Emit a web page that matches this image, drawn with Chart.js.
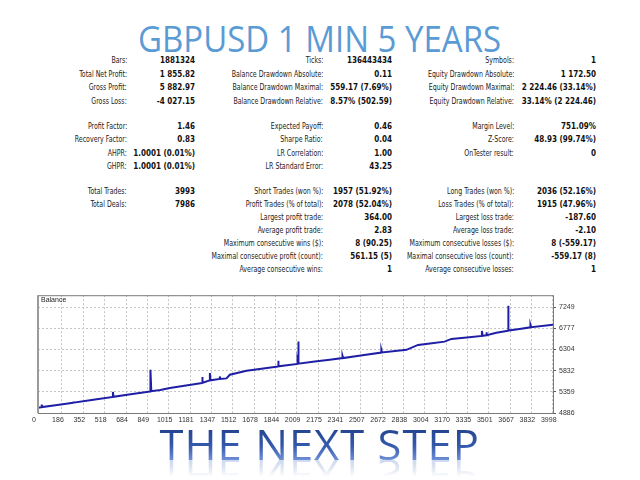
<!DOCTYPE html>
<html>
<head>
<meta charset="utf-8">
<script src="https://cdn.jsdelivr.net/npm/chart.js@4.4.1/dist/chart.umd.min.js"></script>
<style>
  body { margin: 0; width: 640px; height: 480px; background: #fff; overflow: hidden; position: relative; }
  .t { position: absolute; font-family: "DejaVu Sans Condensed", "Liberation Sans", sans-serif; font-size: 8px; line-height: 10px; white-space: nowrap; color: #222; text-align: right; }
  .l { transform: scaleX(0.87); transform-origin: right center; }
  .v { font-weight: bold; color: #111; }
  #title { position: absolute; top: 13px; left: 0; width: 640px; text-align: center; }
  #title span { display: inline-block; font-family: "Open Sans", sans-serif; font-size: 37px; line-height: 50px; color: #5b9bd5; transform-origin: center; }
  #bottom { position: absolute; top: 428px; left: 0; width: 640px; text-align: center; }
  #bottom span { display: inline-block; font-family: "Open Sans", sans-serif; font-weight: 400; font-size: 42px; line-height: 32px; letter-spacing: 1px;
    background: linear-gradient(to bottom, #24448f 0%, #3459ab 55%, #6f8fd6 100%);
    -webkit-background-clip: text; background-clip: text; color: transparent;
    -webkit-box-reflect: below -1px linear-gradient(transparent 45%, rgba(255,255,255,0.35));
    transform-origin: center; }
  #bal { position: absolute; left: 41px; top: 296px; font-family: "Liberation Sans", sans-serif; font-size: 7px; color: #222; }
  canvas { position: absolute; left: 0; top: 288px; }
</style>
</head>
<body>
<div id="title"><span>GBPUSD 1 MIN 5 YEARS</span></div>
<div id="stats"></div>
<canvas id="balance" width="640" height="142"></canvas>
<div id="bal">Balance</div>
<div id="bottom"><span>THE NEXT STEP</span></div>
<script>
// balance curve: trade number / balance (spikes are up-and-back pairs)
const tradeNo = [0, 29, 29, 32, 150, 274, 274, 277, 430, 582, 582, 586, 720, 870, 870, 875, 875, 880,
  950, 1024, 1150, 1275, 1275, 1280, 1335, 1335, 1340, 1412, 1412, 1416, 1464, 1490, 1620, 1750,
  1865, 1865, 1870, 2016, 2016, 2020, 2020, 2026, 2150, 2266, 2365, 2365, 2370, 2520, 2667, 2667, 2672,
  2862, 2952, 3060, 3158, 3211, 3330, 3448, 3448, 3453, 3482, 3482, 3487, 3560, 3651, 3651, 3656,
  3740, 3825, 3825, 3830, 4000];
const balance = [5000, 5017, 5075, 5018, 5063, 5115, 5140, 5116, 5180, 5245, 5356, 5247, 5305, 5368, 5520, 5370, 5851, 5372,
  5400, 5445, 5500, 5556, 5689, 5560, 5614, 5778, 5616, 5645, 5703, 5646, 5658, 5740, 5829, 5880,
  5925, 6051, 5927, 5982, 6040, 5984, 6479, 5987, 6035, 6073, 6111, 6162, 6113, 6175, 6235, 6295, 6237,
  6295, 6406, 6445, 6479, 6539, 6572, 6606, 6717, 6609, 6620, 6690, 6622, 6675, 6723, 7278, 6725,
  6760, 6799, 6850, 6801, 6856];
const xTicks = [0, 186, 352, 518, 684, 849, 1015, 1181, 1347, 1512, 1678, 1844, 2009, 2175, 2341, 2507,
  2672, 2838, 3004, 3170, 3335, 3501, 3667, 3832, 3998];
const yTicks = [4886, 5359, 5832, 6304, 6777, 7249];

// report table
const col1 = [["Bars:", "1881324"], ["Total Net Profit:", "1 855.82"], ["Gross Profit:", "5 882.97"], ["Gross Loss:", "-4 027.15"],
  ["Profit Factor:", "1.46"], ["Recovery Factor:", "0.83"], ["AHPR:", "1.0001 (0.01%)"], ["GHPR:", "1.0001 (0.01%)"],
  ["Total Trades:", "3993"], ["Total Deals:", "7986"]];
const col2 = [["Ticks:", "136443434"], ["Balance Drawdown Absolute:", "0.11"], ["Balance Drawdown Maximal:", "559.17 (7.69%)"], ["Balance Drawdown Relative:", "8.57% (502.59)"],
  ["Expected Payoff:", "0.46"], ["Sharpe Ratio:", "0.04"], ["LR Correlation:", "1.00"], ["LR Standard Error:", "43.25"],
  ["Short Trades (won %):", "1957 (51.92%)"], ["Profit Trades (% of total):", "2078 (52.04%)"], ["Largest profit trade:", "364.00"],
  ["Average profit trade:", "2.83"], ["Maximum consecutive wins ($):", "8 (90.25)"], ["Maximal consecutive profit (count):", "561.15 (5)"],
  ["Average consecutive wins:", "1"]];
const col3 = [["Symbols:", "1"], ["Equity Drawdown Absolute:", "1 172.50"], ["Equity Drawdown Maximal:", "2 224.46 (33.14%)"], ["Equity Drawdown Relative:", "33.14% (2 224.46)"],
  ["Margin Level:", "751.09%"], ["Z-Score:", "48.93 (99.74%)"], ["OnTester result:", "0"], null,
  ["Long Trades (won %):", "2036 (52.16%)"], ["Loss Trades (% of total):", "1915 (47.96%)"], ["Largest loss trade:", "-187.60"],
  ["Average loss trade:", "-2.10"], ["Maximum consecutive losses ($):", "8 (-559.17)"], ["Maximal consecutive loss (count):", "-559.17 (8)"],
  ["Average consecutive losses:", "1"]];
const rowY = [61, 74.5, 88, 101.5, 127, 140.3, 153.7, 167, 192, 205, 218, 231, 244, 257, 270];

const stats = document.getElementById("stats");
function addText(txt, right, y, cls) {
  const d = document.createElement("div");
  d.className = "t " + cls;
  d.textContent = txt;
  d.style.right = (640 - right) + "px";
  d.style.top = (y - 5) + "px";
  stats.appendChild(d);
}
function addCol(rows, labelRight, valueRight) {
  rows.forEach((r, i) => {
    if (!r) return;
    addText(r[0], labelRight, rowY[i], "l");
    addText(r[1], valueRight, rowY[i], "v");
  });
}
addCol(col1, 127, 195);
addCol(col2, 323, 392);
addCol(col3, 514, 596);

function fit(sel, w) {
  const el = document.querySelector(sel);
  el.style.transform = "scaleX(" + (w / el.offsetWidth) + ")";
}
fit("#title span", 363);
fit("#bottom span", 320);

const frame = {
  id: "frame",
  afterDraw(chart) {
    const a = chart.chartArea, c = chart.ctx;
    c.save();
    c.strokeStyle = "#7a7a7a";
    c.lineWidth = 1;
    c.strokeRect(a.left + 0.5, a.top + 0.5, a.right - a.left, a.bottom - a.top);
    c.fillStyle = "#9a9a9a";
    c.fillRect(a.left - 1, a.top, 2, a.bottom - a.top);
    c.restore();
  }
};

new Chart(document.getElementById("balance"), {
  type: "line",
  data: {
    datasets: [{
      data: tradeNo.map((x, i) => ({ x: x, y: balance[i] })),
      borderColor: "#1f1fa6",
      borderWidth: 2,
      pointRadius: 0,
      tension: 0,
      fill: false
    }]
  },
  options: {
    responsive: false,
    animation: false,
    layout: { padding: { left: 38, top: 7, right: 0, bottom: 0 } },
    plugins: { legend: { display: false }, tooltip: { enabled: false } },
    scales: {
      x: {
        type: "linear", min: 0, max: 4000,
        afterBuildTicks: s => { s.ticks = xTicks.map(v => ({ value: v })); },
        afterFit: s => { s.height = 17; },
        grid: { color: "#c4c4c4", drawTicks: false },
        border: { display: false, dash: [2, 2] },
        ticks: { padding: 3, labelOffset: -4, maxRotation: 0, autoSkip: false, color: "#333",
          callback: v => String(v),
          font: { family: "Liberation Sans", size: 7 } }
      },
      y: {
        position: "right", min: 4886, max: 7515,
        afterBuildTicks: s => { s.ticks = yTicks.map(v => ({ value: v })); },
        afterFit: s => { s.width = 87; },
        grid: { color: "#c4c4c4", tickLength: 3, tickColor: "#555" },
        border: { display: false, dash: [2, 2] },
        ticks: { padding: 3, color: "#333", callback: v => String(v),
          font: { family: "Liberation Sans", size: 7 } }
      }
    }
  },
  plugins: [frame]
});
</script>
</body>
</html>
